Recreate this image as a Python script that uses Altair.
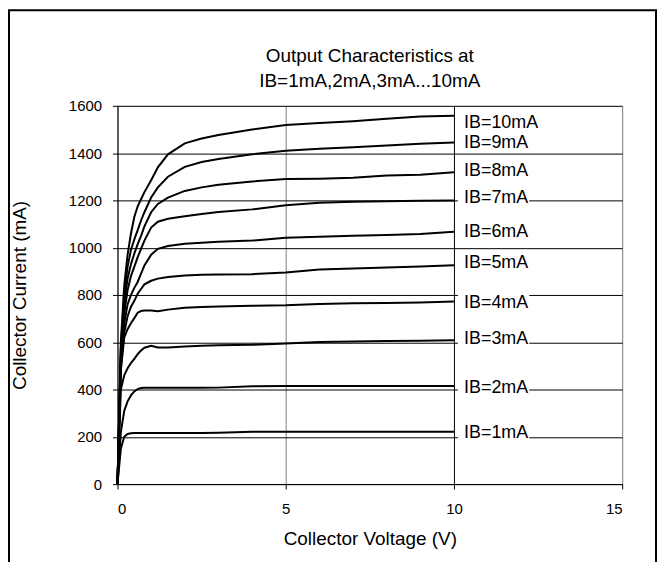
import altair as alt
import pandas as pd

# ---- data ----
voltage = [0, 0.1, 0.2, 0.3, 0.4, 0.5, 0.6, 0.7, 0.8, 1.0, 1.2, 1.5,
           2.0, 2.5, 3.0, 4.0, 5.0, 6.0, 7.0, 8.0, 9.0, 10.0]

ib1 = [0, 150, 200, 212, 215, 216, 216, 216, 216, 216, 216, 216, 216, 216, 217, 221, 221, 221, 221, 221, 221, 221]
ib2 = [0, 220, 310, 350, 375, 392, 402, 406, 407, 407, 407, 407, 407, 407, 408, 414, 415, 415, 415, 415, 415, 415]
ib3 = [0, 400, 460, 490, 512, 530, 550, 565, 577, 585, 578, 578, 582, 585, 587, 589, 595, 601, 603, 605, 606, 608]
ib4 = [0, 480, 620, 655, 680, 702, 725, 732, 734, 734, 731, 738, 746, 749, 751, 754, 756, 762, 765, 766, 768, 772]
ib5 = [0, 500, 640, 710, 750, 775, 805, 825, 845, 860, 869, 876, 882, 885, 887, 888, 895, 908, 912, 916, 920, 926]
ib6 = [0, 520, 680, 760, 800, 830, 855, 890, 925, 970, 995, 1007, 1017, 1021, 1025, 1030, 1042, 1046, 1050, 1054, 1058, 1067]
ib7 = [0, 540, 720, 820, 880, 920, 960, 995, 1030, 1085, 1110, 1122, 1133, 1142, 1151, 1162, 1179, 1190, 1194, 1196, 1198, 1200]
ib8 = [0, 560, 760, 870, 930, 975, 1015, 1050, 1090, 1150, 1185, 1212, 1240, 1255, 1266, 1280, 1290, 1292, 1296, 1305, 1308, 1319]
ib9 = [0, 580, 800, 920, 990, 1035, 1074, 1115, 1150, 1212, 1255, 1300, 1342, 1362, 1375, 1395, 1410, 1418, 1425, 1432, 1440, 1445]
ib10 = [0, 600, 840, 970, 1060, 1130, 1175, 1205, 1235, 1285, 1340, 1395, 1441, 1462, 1477, 1500, 1519, 1527, 1535, 1545, 1555, 1558]

series_names = ["IB=1mA", "IB=2mA", "IB=3mA", "IB=4mA", "IB=5mA",
                "IB=6mA", "IB=7mA", "IB=8mA", "IB=9mA", "IB=10mA"]
series_values = [ib1, ib2, ib3, ib4, ib5, ib6, ib7, ib8, ib9, ib10]

label_current = [215, 407, 613, 767, 935, 1066, 1208, 1326, 1444, 1528]
label_voltage = 10.3

x_ticks = [0, 5, 10, 15]
y_ticks = [0, 200, 400, 600, 800, 1000, 1200, 1400, 1600]

title_lines = ["Output Characteristics at", "IB=1mA,2mA,3mA...10mA"]
x_title = "Collector Voltage (V)"
y_title = "Collector Current (mA)"

FONT = "Liberation Sans"
LABEL_SIZE = 18
PLOT_W, PLOT_H = 507, 380

# ---- tables ----
rows = []
for name, vals in zip(series_names, series_values):
    for v, i in zip(voltage, vals):
        rows.append({"series": name, "V": v, "I": i})
df = pd.DataFrame(rows)

# approximate Arial/Liberation advance widths (em) to size white label boxes
adv = {"I": 0.278, "B": 0.667, "=": 0.584, "m": 0.833, "A": 0.667}
def text_w(s):
    return sum(adv.get(c, 0.556) for c in s) * LABEL_SIZE

px_per_v = PLOT_W / 15.0
lab = pd.DataFrame({
    "label": series_names,
    "I": label_current,
    "V": [label_voltage] * len(series_names),
})
lab["x0"] = 10.12
lab["x1"] = [label_voltage + (text_w(s) + 1) / px_per_v for s in series_names]
lab["y0"] = lab["I"] - 38
lab["y1"] = lab["I"] + 38

xs = alt.Scale(domain=[0, 15], nice=False, zero=False)
ys = alt.Scale(domain=[0, 1600], nice=False)

x_axis = alt.Axis(
    values=x_ticks, grid=True, format="d",
    gridColor={"condition": {"test": "datum.value === 10", "value": "#000000"}, "value": "#808080"},
    gridWidth=1, tickSize=5, tickColor="black", domainColor="black",
    labelFontSize=15, labelFont=FONT, labelColor="black", labelPadding=13,
    title=x_title, titleFont=FONT, titleFontSize=19, titleFontWeight="normal",
    titleColor="black", titleY=55, titleBaseline="middle",
)
y_axis = alt.Axis(
    values=y_ticks, grid=True, gridColor="black", gridWidth=1, format="d",
    tickSize=5, tickColor="black", domainColor="black",
    labelFontSize=15, labelFont=FONT, labelColor="black", labelPadding=11,
    title=y_title, titleFont=FONT, titleFontSize=19, titleFontWeight="normal",
    titleColor="black", titleX=-98, titleY=PLOT_H / 2, titleAlign="center",
    titleBaseline="middle", titleAngle=270,
)

lines = alt.Chart(df).mark_line(color="black", strokeWidth=2).encode(
    x=alt.X("V:Q", scale=xs, axis=x_axis),
    y=alt.Y("I:Q", scale=ys, axis=y_axis),
    detail="series:N",
)

boxes = alt.Chart(lab).mark_rect(color="white").encode(
    x=alt.X("x0:Q", scale=xs),
    x2="x1:Q",
    y=alt.Y("y0:Q", scale=ys),
    y2="y1:Q",
)

texts = alt.Chart(lab).mark_text(
    align="left", baseline="middle", fontSize=LABEL_SIZE, font=FONT, color="black"
).encode(
    x=alt.X("V:Q", scale=xs),
    y=alt.Y("I:Q", scale=ys),
    text="label:N",
)

title = alt.Chart(pd.DataFrame({"k": [0]})).mark_text(
    align="center", baseline="middle", fontSize=19, font=FONT, color="black",
    lineHeight=25,
).encode(
    x=alt.value(PLOT_W / 2), y=alt.value(-50), text=alt.value(title_lines)
)

frame = alt.Chart(pd.DataFrame({"k": [0]})).mark_rect(
    fillOpacity=0, stroke="black", strokeWidth=2
).encode(
    x=alt.value(-109), x2=alt.value(541), y=alt.value(-96), y2=alt.value(480)
)

chart = alt.layer(lines, boxes, texts, title, frame).properties(
    width=PLOT_W, height=PLOT_H,
    autosize=alt.AutoSizeParams(type="none"),
    padding={"left": 110, "top": 97, "right": 36, "bottom": 77},
).configure_view(stroke="black", strokeWidth=1).configure(background="white")

chart.save("out.html", embed_options={"renderer": "svg", "actions": False})
